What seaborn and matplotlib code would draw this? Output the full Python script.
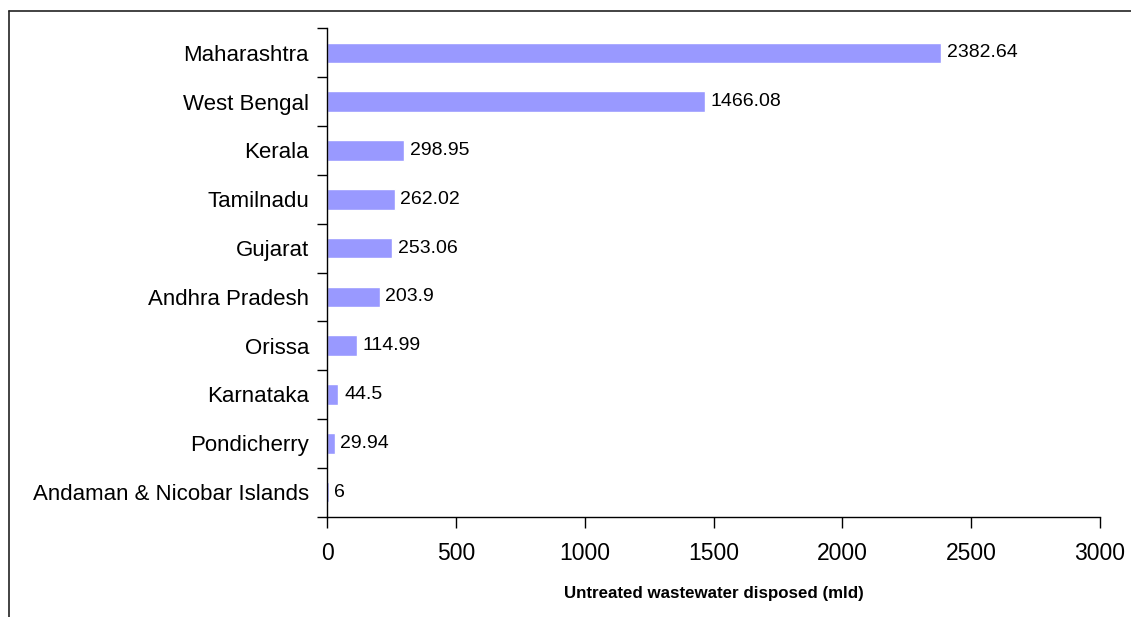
import matplotlib
matplotlib.use("Agg")
import matplotlib.pyplot as plt
from matplotlib.lines import Line2D
import seaborn as sns
import pandas as pd
import numpy as np

states = ["Maharashtra", "West Bengal", "Kerala", "Tamilnadu", "Gujarat",
          "Andhra Pradesh", "Orissa", "Karnataka", "Pondicherry",
          "Andaman & Nicobar Islands"]
untreated_mld = [2382.64, 1466.08, 298.95, 262.02, 253.06, 203.9, 114.99,
                 44.5, 29.94, 6]
value_labels = ["2382.64", "1466.08", "298.95", "262.02", "253.06", "203.9",
                "114.99", "44.5", "29.94", "6"]
x_ticks = [0, 500, 1000, 1500, 2000, 2500, 3000]

sns.set_style("white")
plt.rcParams["font.family"] = ["Liberation Sans", "DejaVu Sans"]
plt.rcParams["text.color"] = "black"
plt.rcParams["axes.labelcolor"] = "black"
plt.rcParams["xtick.color"] = "black"
plt.rcParams["ytick.color"] = "black"

df = pd.DataFrame({"state": states, "mld": untreated_mld})

fig = plt.figure(figsize=(11.31, 6.17), dpi=100)
ax = fig.add_axes([327 / 1131, 1 - 516.5 / 617, (1100 - 327) / 1131, (516.5 - 28.5) / 617])

sns.barplot(data=df, y="state", x="mld", orient="h", color="#9999FF",
            saturation=1, width=0.42, ax=ax)

for i, (v, lab) in enumerate(zip(untreated_mld, value_labels)):
    ax.text(v + 22, i, lab, va="center", ha="left", fontsize=14, color="black")

ax.set_xlim(0, 3000)
ax.set_ylim(len(states) - 0.5, -0.5)
ax.set_xticks(x_ticks)
ax.set_xticklabels([str(t) for t in x_ticks], fontsize=16.5)
ax.tick_params(axis="x", bottom=True, direction="out", length=8, width=1,
               color="black", pad=10.5)
ax.tick_params(axis="y", which="major", left=True, length=0, labelsize=16, pad=13)
ax.set_yticks(np.arange(-0.5, len(states), 1.0), minor=True)
ax.tick_params(axis="y", which="minor", left=True, direction="out", length=7,
               width=1, color="black")
ax.set_ylabel("")
ax.set_xlabel("Untreated wastewater disposed (mld)", fontsize=12.2,
              fontweight="bold", labelpad=15)

for side in ["top", "right"]:
    ax.spines[side].set_visible(False)
for side in ["left", "bottom"]:
    ax.spines[side].set_color("black")
    ax.spines[side].set_linewidth(1)

# outer frame lines (top and left)
fig.add_artist(Line2D([8.5 / 1131, 1.0], [1 - 10.5 / 617, 1 - 10.5 / 617],
                      transform=fig.transFigure, color="#222222", lw=1.2))
fig.add_artist(Line2D([8.5 / 1131, 8.5 / 1131], [0, 1 - 10.5 / 617],
                      transform=fig.transFigure, color="#222222", lw=1.2))

fig.savefig("out.png", dpi=100, facecolor="white")
